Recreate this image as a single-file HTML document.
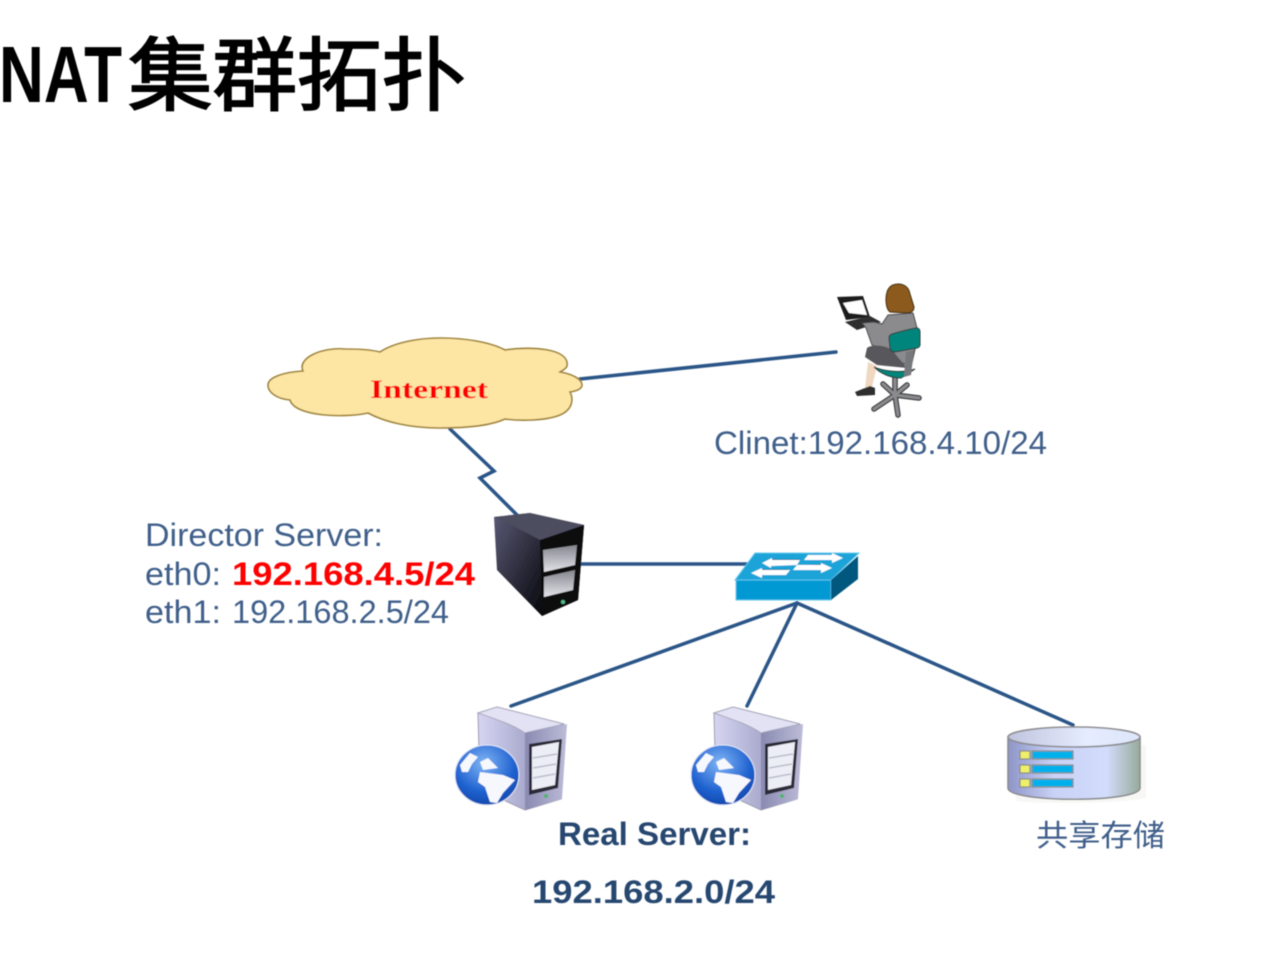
<!DOCTYPE html>
<html lang="zh">
<head>
<meta charset="utf-8">
<style>
html,body{margin:0;padding:0;background:#fff;}
svg{display:block;}
</style>
</head>
<body>
<svg width="1267" height="960" viewBox="0 0 1267 960" xmlns="http://www.w3.org/2000/svg">
<defs>
<filter id="soft" x="-2%" y="-2%" width="104%" height="104%"><feGaussianBlur stdDeviation="0.55"/></filter>
<linearGradient id="tower" x1="0" y1="0" x2="1" y2="0"><stop offset="0" stop-color="#d6d6f2"/><stop offset="1" stop-color="#8585b0"/></linearGradient>
<linearGradient id="towerF" x1="0" y1="0" x2="1" y2="0"><stop offset="0" stop-color="#8a8ab2"/><stop offset="1" stop-color="#bcbcd8"/></linearGradient>
<radialGradient id="globe" cx="0.45" cy="0.3" r="0.8"><stop offset="0" stop-color="#7fb4f5"/><stop offset="0.6" stop-color="#1f62d0"/><stop offset="1" stop-color="#0f3ea0"/></radialGradient>
<linearGradient id="drum" x1="0" y1="0" x2="1" y2="0"><stop offset="0" stop-color="#8e95c8"/><stop offset="0.35" stop-color="#c9d2f7"/><stop offset="0.75" stop-color="#d2dcfb"/><stop offset="1" stop-color="#97ab9c"/></linearGradient>
<linearGradient id="drumTop" x1="0" y1="0" x2="1" y2="0"><stop offset="0" stop-color="#bfc4dd"/><stop offset="0.6" stop-color="#e6ecff"/><stop offset="1" stop-color="#dde5fa"/></linearGradient>
<linearGradient id="dark" x1="0" y1="0" x2="1" y2="0.6"><stop offset="0" stop-color="#5a5a76"/><stop offset="0.8" stop-color="#0a0a10"/></linearGradient>
<linearGradient id="bay" x1="0" y1="0" x2="0" y2="1"><stop offset="0" stop-color="#85858f"/><stop offset="1" stop-color="#e4e4ea"/></linearGradient>
<g id="rs">
<path d="M476 711 L495 705 L562 722 L559 797 L523 808 L478 787Z" fill="url(#tower)" stroke="#9a9ab0" stroke-width="1"/>
<path d="M476 711 L495 705 L562 722 C550 725 535 728 523 731 C510 722 490 716 476 711Z" fill="#e2e2f4" stroke="#a8a8bc" stroke-width="1"/>
<path d="M523 731 L565 722 L560 797 L523 808Z" fill="url(#towerF)"/>
<path d="M527 742 L560 737 L556 786 L527 793Z" fill="#2c2c38"/>
<path d="M530 745 L557 740 L553 783 L530 788Z" fill="#eceef5"/>
<path d="M531 756 L555 752 M531 766 L554 762 M531 776 L553 772" stroke="#babccb" stroke-width="1.5"/>
<circle cx="544" cy="794" r="2" fill="#4cb56b"/>
</g>
<g id="gl">
<ellipse cx="487" cy="775" rx="32" ry="30" fill="url(#globe)" stroke="#dfe7f7" stroke-width="1"/>
<path d="M460 765 L470 753 L478 757 L472 764 L468 772 L462 772Z" fill="#f6f8fd"/>
<path d="M480 762 L488 758 L498 768 L483 770Z" fill="#f6f8fd"/>
<path d="M480 772 L503 775 L515 780 L503 793 L497 803 L490 802 L485 787 L478 782Z" fill="#f6f8fd"/>
</g>
</defs>

<g filter="url(#soft)">
<text x="-1" y="102" font-family="'Liberation Sans','Noto Sans CJK SC',sans-serif" font-size="80" font-weight="700" fill="#050505" textLength="123" lengthAdjust="spacingAndGlyphs">NAT</text>
<text x="128" y="104" font-family="'Noto Sans CJK SC','WenQuanYi Zen Hei',sans-serif" font-size="80" font-weight="400" fill="#050505" stroke="#050505" stroke-width="1.8" textLength="338" lengthAdjust="spacingAndGlyphs">集群拓扑</text>

<g fill="none" stroke="#2b5587" stroke-width="3.5" stroke-linecap="round" stroke-linejoin="miter">
<path d="M580 379 L836 352"/>
<path d="M450 429 L494 471 L480 478 L517 515"/>
<path d="M580 564 L748 564"/>
<path d="M797 603 L511 706"/>
<path d="M797 603 L747 706"/>
<path d="M797 603 L1073 725"/>
</g>

<path d="M268 385 C268 377 285 372 303 371 C297 358 322 347 345 349 C360 349 372 350 380 352 C395 342 420 338 440 338 C465 338 490 342 505 350 C530 346 570 348 567 366 C566 369 563 370 560 372 C572 374 582 379 582 385 C582 389 576 391 570 392 C574 400 572 410 560 415 C545 421 520 421 505 419 C490 426 465 428 440 428 C410 428 385 422 368 413 C345 418 295 417 290 400 C278 399 268 393 268 385Z" fill="#fde5a4" stroke="#9c8238" stroke-width="1.6"/>
<text x="429" y="398" text-anchor="middle" font-family="'Liberation Serif',serif" font-size="26" font-weight="700" fill="#ff0000" textLength="118" lengthAdjust="spacingAndGlyphs">Internet</text>

<!-- Client person -->
<g>
<g stroke="#3a3a3c" stroke-width="5.5" fill="none" stroke-linecap="round">
<path d="M895 376 L895 395 M895 395 L874 409 M895 395 L898 415 M895 395 L919 398 M895 395 L907 385 M895 395 L883 384"/>
</g>
<g stroke="#8a8b8e" stroke-width="3" fill="none" stroke-linecap="round">
<path d="M895 376 L895 395 M895 395 L874 409 M895 395 L898 415 M895 395 L919 398 M895 395 L907 385 M895 395 L883 384"/>
</g>
<path d="M837 297 L863 296 L870 317 L846 320Z" fill="#1c1c1c"/>
<path d="M843 303 L862 300 L867 315 L849 313Z" fill="#fff"/>
<path d="M845 322 L870 316 L881 322 L857 330Z" fill="#2e2e2e"/>
<path d="M868 362 L877 366 L872 387 L865 388Z" fill="#f0d7c0"/>
<path d="M855 392 L870 386 L875 388 L875 395 L857 396Z" fill="#2d2d2d"/>
<path d="M874 322 L862 323 L866 328 L872 345 L888 350 L892 358 L911 367 L916 345 L917 328 L913 313 L888 315 L882 324Z" fill="#8b8b8e" stroke="#444" stroke-width="1"/>
<path d="M867 348 C872 344 885 345 892 350 L907 368 L877 365 L865 357Z" fill="#58585c"/>
<path d="M887 292 C889 286 893 284 898 284 C905 284 909 288 910 294 L914 307 C914 311 911 313 907 313 L890 312 C886 309 885 299 887 292Z" fill="#8b5a1e" stroke="#3a2a10" stroke-width="1"/>
<path d="M874 367 C885 372 905 373 915 369 L901 378 C890 378 880 373 874 367Z" fill="#00857c" stroke="#2a3a38" stroke-width="1"/>
<path d="M906 352 L914 350 L911 375 L904 377Z" fill="#77787c"/>
<path d="M892 334 Q905 330 916 328 Q920 328 920 332 L920 345 Q920 347 917 348 L895 352 Q891 352 890 348 L889 338 Q889 335 892 334Z" fill="#00857c" stroke="#2a3a38" stroke-width="1"/>
</g>

<!-- Director server -->
<g>
<path d="M494 517 L530 513 L584 525 L578 600 L542 616 L497 570Z" fill="url(#dark)"/>
<path d="M494 517 L530 513 L584 525 C570 530 555 536 540 540 C525 532 510 524 494 517Z" fill="#4d4d60"/>
<path d="M540 540 L584 525 L578 600 L542 616Z" fill="#0a0a0e"/>
<path d="M543 550 L577 545 L575 565 L544 572Z" fill="url(#bay)"/>
<path d="M544 577 L575 570 L573 590 L544 597Z" fill="url(#bay)"/>
<circle cx="563" cy="602" r="2" fill="#55bb88"/>
</g>

<!-- Switch -->
<g>
<path d="M735 580 L755 553 L859 553 L831 580Z" fill="#1ba3d8" stroke="#62c9ee" stroke-width="1"/>
<rect x="736" y="580" width="95" height="20" fill="#0099d4" stroke="#5cc6ee" stroke-width="1"/>
<path d="M831 580 L858 556 L858 579 L831 600Z" fill="#01597f"/>
<path d="M770 560 L800 560 M800 566 L820 565 M762 570 L788 570" stroke="#01597f" stroke-width="1.2"/>
<g fill="#fff">
<path d="M762 563 L772 558 L772 560 L800 560 L797 565 L771 566 L771 568Z"/>
<path d="M843 558 L832 553 L832 555 L808 555 L804 560 L832 560 L832 563Z"/>
<path d="M751 573 L762 568 L762 570 L790 570 L786 575 L762 575 L762 578Z"/>
<path d="M832 568 L821 563 L821 565 L797 565 L793 570 L821 570 L821 573Z"/>
</g>
</g>

<!-- Real servers -->
<g transform="translate(2,2)"><use href="#rs"/></g>
<use href="#gl"/>
<g transform="translate(238,2)"><use href="#rs"/></g>
<use href="#gl" x="236"/>

<!-- Storage -->
<g>
<path d="M1012 745 L1146 745 L1146 798 C1120 804 1040 804 1016 801Z" fill="#eeeee8" opacity="0.45"/>
<path d="M1008 738 L1008 788 C1008 803 1140 803 1140 788 L1140 738Z" fill="url(#drum)" stroke="#8c8c90" stroke-width="1.6"/>
<ellipse cx="1074" cy="737" rx="66" ry="10" fill="url(#drumTop)" stroke="#8c8c90" stroke-width="1.6"/>
<g stroke="#8a8a80" stroke-width="1.2">
<rect x="1020" y="751" width="10" height="8" fill="#eef06a"/><rect x="1032" y="751" width="41" height="8" fill="#00b0ec"/>
<rect x="1020" y="765" width="10" height="8" fill="#eef06a"/><rect x="1032" y="765" width="41" height="8" fill="#00b0ec"/>
<rect x="1020" y="779" width="10" height="8" fill="#eef06a"/><rect x="1032" y="779" width="41" height="8" fill="#00b0ec"/>
</g>
</g>

<g font-family="'Liberation Sans','Noto Sans CJK SC',sans-serif" font-size="32" fill="#3f5f8a">
<text x="714" y="454" textLength="333" lengthAdjust="spacingAndGlyphs">Clinet:192.168.4.10/24</text>
<text x="145" y="546" textLength="238" lengthAdjust="spacingAndGlyphs">Director Server:</text>
<text x="145" y="585" textLength="76" lengthAdjust="spacingAndGlyphs">eth0:</text>
<text x="232" y="585" font-weight="700" fill="#ff0000" textLength="243" lengthAdjust="spacingAndGlyphs">192.168.4.5/24</text>
<text x="145" y="623" textLength="76" lengthAdjust="spacingAndGlyphs">eth1:</text>
<text x="232" y="623" textLength="217" lengthAdjust="spacingAndGlyphs">192.168.2.5/24</text>
<text x="1036" y="846" font-size="30" textLength="129" lengthAdjust="spacingAndGlyphs">共享存储</text>
<text x="558" y="845" font-weight="700" fill="#27466f" textLength="193" lengthAdjust="spacingAndGlyphs">Real Server:</text>
<text x="532" y="903" font-weight="700" fill="#27466f" textLength="243" lengthAdjust="spacingAndGlyphs">192.168.2.0/24</text>
</g>
</g>
</svg>
</body>
</html>
